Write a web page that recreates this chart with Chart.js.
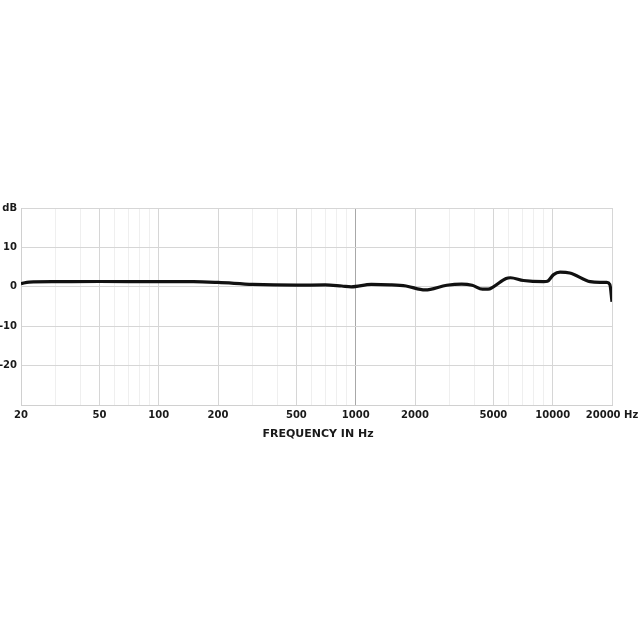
<!DOCTYPE html>
<html lang="en">
  <head>
    <meta charset="UTF-8" />
    <title>Frequency Response</title>
    <script src="https://cdn.jsdelivr.net/npm/chart.js"></script>
    <style>
      html, body { margin: 0; padding: 0; background: #fff; }
      #wrap { width: 640px; height: 640px; }
    </style>
  </head>
  <body>
    <div id="wrap"><canvas id="fr" width="640" height="640"></canvas></div>
    <script>
      // response curve (Hz, dB)
      const freqs = [20, 22, 30, 50, 100, 150, 200, 300, 500, 700, 850, 950, 1200, 1500, 1800, 2250, 2900, 3450, 3900, 4400, 4700, 5000, 5800, 6100, 7100, 9000, 9400, 10100, 10900, 12200, 15500, 17400, 18800, 19500, 20000];
      const levels = [0.8, 1.2, 1.3, 1.35, 1.3, 1.3, 1.1, 0.6, 0.4, 0.5, 0.2, 0.0, 0.6, 0.5, 0.2, -0.8, 0.4, 0.7, 0.4, -0.6, -0.6, 0.0, 2.1, 2.3, 1.6, 1.3, 1.4, 3.1, 3.7, 3.5, 1.3, 1.1, 1.1, 0.6, -3.8];

      // grid lines and which of them carry a label
      const freqGrid = [20, 30, 40, 50, 60, 70, 80, 90, 100, 200, 300, 400, 500, 600, 700, 800, 900, 1000,
                        2000, 3000, 4000, 5000, 6000, 7000, 8000, 9000, 10000, 20000];
      const freqLabels = [20, 50, 100, 200, 500, 1000, 2000, 5000, 10000, 20000];
      const dbTicks = [-30, -20, -10, 0, 10, 20];

      const tickFont = { family: 'DejaVu Sans', size: 10, weight: 'bold' };

      const gridColour = (v) => {
        if (v === 1000) return '#a8a8a8';
        if (freqLabels.includes(v)) return '#d6d6d6';
        return '#efefef';
      };

      const axisTitle = {
        id: 'axisTitle',
        afterDraw(chart) {
          const ctx = chart.ctx;
          ctx.save();
          ctx.fillStyle = '#1a1a1a';
          ctx.font = 'bold 11px "DejaVu Sans"';
          ctx.textAlign = 'center';
          ctx.textBaseline = 'middle';
          ctx.fillText('FREQUENCY IN Hz', 318, 434);
          ctx.restore();
        }
      };

      new Chart(document.getElementById('fr'), {
        type: 'line',
        data: {
          datasets: [{
            data: freqs.map((f, i) => ({ x: f, y: levels[i] })),
            borderColor: '#111',
            borderWidth: 3.2,
            pointRadius: 0,
            cubicInterpolationMode: 'monotone',
            fill: false
          }]
        },
        options: {
          responsive: false,
          animation: false,
          layout: { padding: { left: 0, right: 28, top: 208, bottom: 205 } },
          plugins: { legend: { display: false }, tooltip: { enabled: false } },
          scales: {
            x: {
              type: 'logarithmic',
              min: 20,
              max: 20000,
              afterBuildTicks: (s) => { s.ticks = freqGrid.map(v => ({ value: v })); },
              afterFit: (s) => { s.height = 30; s.paddingLeft = 0; s.paddingRight = 0; },
              border: { color: '#d0d0d0' },
              grid: {
                drawTicks: false,
                color: (c) => gridColour(c.tick ? c.tick.value : 0)
              },
              ticks: {
                autoSkip: false,
                maxRotation: 0,
                padding: 4,
                color: '#1a1a1a',
                font: tickFont,
                callback: (v) => v === 20000 ? '20000 Hz' : (freqLabels.includes(v) ? String(v) : '')
              }
            },
            y: {
              min: -30,
              max: 20,
              afterBuildTicks: (s) => { s.ticks = dbTicks.map(v => ({ value: v })); },
              afterFit: (s) => { s.width = 21; s.paddingTop = 0; s.paddingBottom = 0; },
              border: { color: '#d0d0d0' },
              grid: { drawTicks: false, color: '#d6d6d6' },
              ticks: {
                padding: 4,
                color: '#1a1a1a',
                font: tickFont,
                callback: (v) => v === 20 ? 'dB' : (v === -30 ? '' : String(v))
              }
            }
          }
        },
        plugins: [axisTitle]
      });
    </script>
  </body>
</html>
